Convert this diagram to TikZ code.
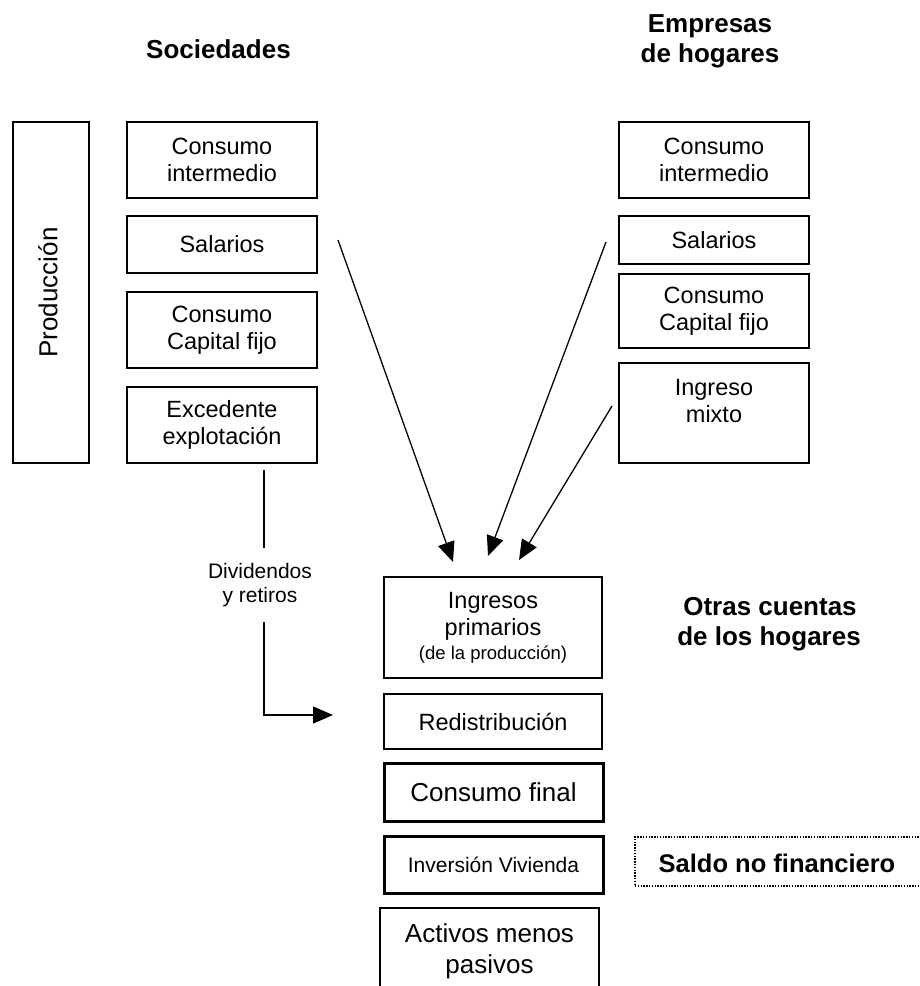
\documentclass[tikz,border=0pt]{standalone}
\usepackage{fontspec}
\setmainfont{Liberation Sans}
\usetikzlibrary{arrows.meta}
\begin{document}
\begin{tikzpicture}[x=1pt,y=-1pt,
  box/.style={draw, line width=1.3pt, inner sep=0pt, align=center, font=\fontsize{23.5}{27}\selectfont},
  thickbox/.style={box, line width=3pt},
  txt/.style={inner sep=0pt, align=center, font=\fontsize{23.5}{27}\selectfont},
  hdr/.style={inner sep=0pt, align=center, font=\bfseries\fontsize{26}{30}\selectfont},
  arr/.style={line width=1.3pt, -{Triangle[length=20pt,width=17pt]}},
  conn/.style={line width=1.3pt}]
\useasboundingbox (0,0) rectangle (920,986);
\clip (0,0) rectangle (920,986);

% headers
\node[hdr, anchor=base] (hsoc) at (218.5,58) {Sociedades};
\node[hdr, anchor=base] (hemp1) at (710,32) {Empresas};
\node[hdr, anchor=base] (hemp2) at (710,62) {de hogares};
\node[hdr, anchor=base] (hotr1) at (770,615) {Otras cuentas};
\node[hdr, anchor=base] (hotr2) at (769,645) {de los hogares};

% Produccion
\node[box, minimum width=76pt, minimum height=341pt] (prod) at (51,292.5) {};
\node[txt, rotate=90, font=\fontsize{26}{30}\selectfont] (prodt) at (48,292.5) {Producción};

% left column
\node[box, minimum width=190pt, minimum height=76pt] (lci) at (222,160) {Consumo\\intermedio};
\node[box, minimum width=190pt, minimum height=57pt] (lsal) at (222,244.5) {Salarios};
\node[box, minimum width=190pt, minimum height=76pt] (lccf) at (222,330) {Consumo\\Capital fijo};
\node[box, minimum width=190pt, minimum height=76pt] (lexc) at (222,425) {Excedente\\explotación};

% right column
\node[box, minimum width=190pt, minimum height=76pt] (rci) at (714,160) {Consumo\\intermedio};
\node[box, minimum width=190pt, minimum height=48pt] (rsal) at (714,240) {Salarios};
\node[box, minimum width=190pt, minimum height=74pt] (rccf) at (714,311) {Consumo\\Capital fijo};
\node[box, minimum width=190pt, minimum height=100pt] (rim) at (714,413) {};
\node[txt] (rimt) at (714,401) {Ingreso\\mixto};

% central column
\node[box, minimum width=218pt, minimum height=101pt] (ip) at (493,627.5)
  {Ingresos\\primarios\\[-3pt]{\fontsize{18.5}{21}\selectfont (de la producción)}};
\node[box, minimum width=218pt, minimum height=55pt] (red) at (493,721.5) {Redistribución};
\node[thickbox, minimum width=219pt, minimum height=58pt, font=\fontsize{26}{30}\selectfont] (cf) at (493.5,792) {Consumo final};
\node[thickbox, minimum width=219pt, minimum height=57pt, font=\fontsize{21}{24}\selectfont] (iv) at (493.5,864.5) {Inversión Vivienda};
\node[box, minimum width=219pt, minimum height=110pt] (amp) at (489.5,963) {};
\node[txt, font=\fontsize{26}{31}\selectfont] (ampt) at (489.5,951) {Activos menos\\pasivos};

% saldo no financiero
\node[draw, line width=1.3pt, dash pattern=on 1.4pt off 1.4pt, minimum width=305pt, minimum height=49pt, inner sep=0pt] (saldo) at (787.5,861.5) {};
\node[hdr, font=\bfseries\fontsize{25.5}{30}\selectfont] (saldot) at (777,863) {Saldo no financiero};

% arrows
\coordinate (a1s) at (338,240);
\coordinate (a1e) at (453,562);
\coordinate (a2s) at (606,242);
\coordinate (a2e) at (488,556);
\coordinate (a3s) at (612,406);
\coordinate (a3e) at (519,560);
\draw[arr] (a1s) -- (a1e);
\draw[arr] (a2s) -- (a2e);
\draw[arr] (a3s) -- (a3e);

% dividendos
\coordinate (d1) at (264,470);
\coordinate (d2) at (264,548);
\coordinate (d3) at (264,622);
\coordinate (d4) at (264,715);
\coordinate (d5) at (333,715);
\draw[conn] (d1) -- (d2);
\draw[arr] (d3) -- (d4) -- (d5);
\node[txt, font=\fontsize{21}{24}\selectfont] (divt) at (260,585) {Dividendos\\y retiros};
\end{tikzpicture}
\end{document}
